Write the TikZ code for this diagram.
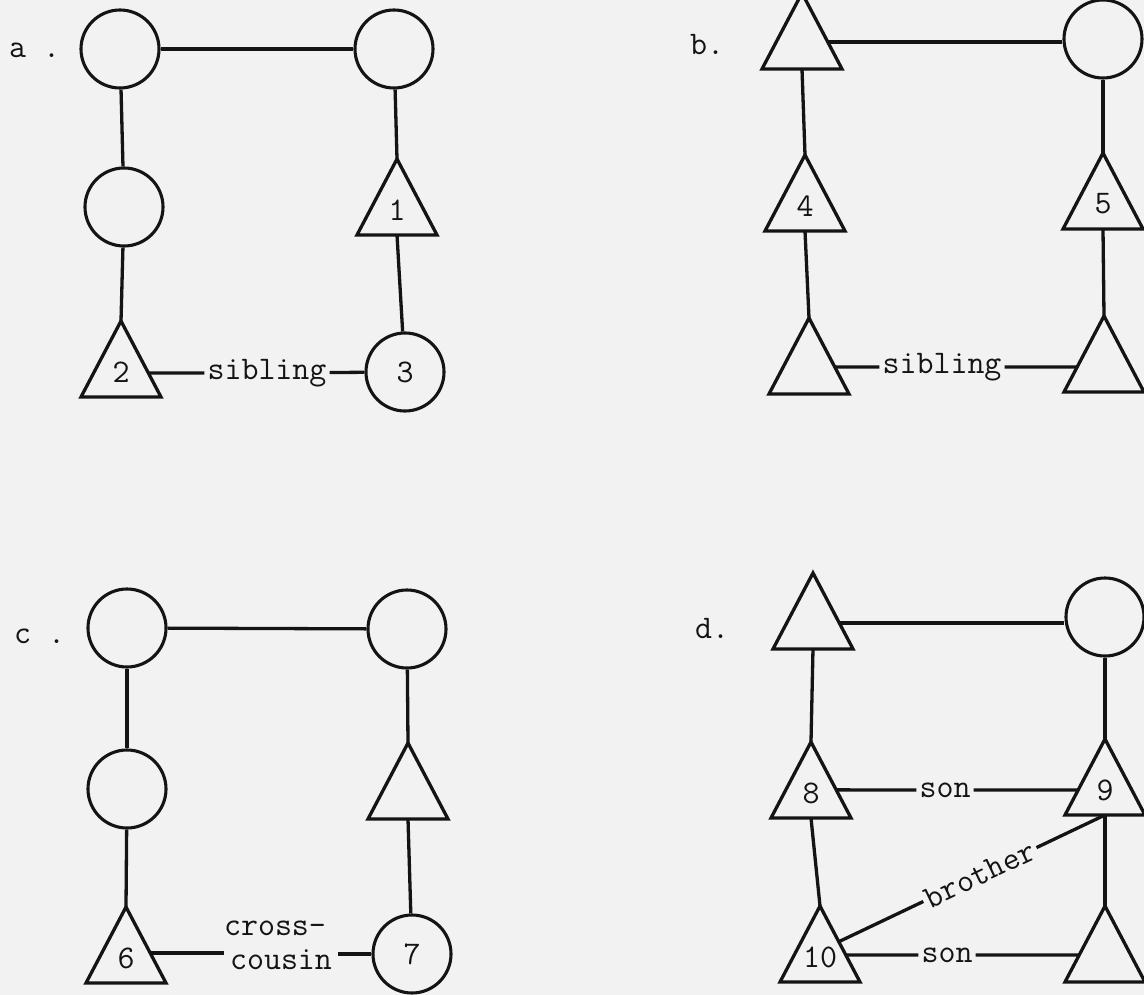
\documentclass[tikz,border=0pt]{standalone}
\usepackage{fontspec}
\usetikzlibrary{calc}
\definecolor{bg}{RGB}{242,242,242}
\definecolor{ink}{RGB}{20,20,20}
\newcommand{\kfont}{\ttfamily\fontsize{33pt}{35pt}\selectfont\addfontfeatures{FakeBold=1.6}}
\newcommand{\kintri}[4]{%
  \coordinate (#1-top) at (#2,#3);
  \coordinate (#1-l) at ($(#2,#3)+(-40,76)$);
  \coordinate (#1-r) at ($(#2,#3)+(40,76)$);
  \coordinate (#1-bot) at ($(#2,#3)+(0,76)$);
  \draw[kin] (#1-top) -- (#1-r) -- (#1-l) -- cycle;
  \node[num] (#1) at ($(#2,#3)+(0,51)$) {#4};
}
\tikzset{
  kin/.style={line width=3.3pt, draw=ink, line join=miter},
  kcirc/.style={circle, draw=ink, line width=3.1pt, minimum size=78pt, inner sep=0pt, font=\kfont, text=ink},
  num/.style={font=\kfont, text=ink, inner sep=0pt},
  lbl/.style={font=\kfont, text=ink, inner sep=3pt},
  plabel/.style={font=\kfont, text=ink, inner sep=0pt, anchor=base west},
  link/.style={line width=3.3pt, draw=ink},
}
\begin{document}
\begin{tikzpicture}[x=1pt,y=-1pt]
\fill[bg] (0,0) rectangle (1144,995);
\useasboundingbox (0,0) rectangle (1144,995);

% ---------- panel a ----------
\node[plabel] (la) at (9,58) {a .};
\node[kcirc] (ca0) at (120,49) {};
\node[kcirc] (ca1) at (394,49) {};
\node[kcirc] (ca2) at (124,207) {};
\node[kcirc] (c3) at (405,372) {3};
\kintri{t2}{121}{321}{2}
\kintri{t1}{397}{159}{1}
\node[lbl] (sibA) at (267,373) {sibling};
\coordinate (t2e) at ($(t2-top)!0.684!(t2-r)$);
\draw[link] (ca0) -- (ca1);
\draw[link] (ca0) -- (ca2);
\draw[link] (ca2) -- (t2-top);
\draw[link] (ca1) -- (t1-top);
\draw[link] (t1-bot) -- (c3);
\draw[link] (t2e) -- (sibA);
\draw[link] (sibA) -- (c3);

% ---------- panel b ----------
\node[plabel] (lb) at (690,55) {b.};
\kintri{tb0}{802}{-7}{}
\node[kcirc] (cb1) at (1103,39) {};
\kintri{tb4}{805}{155}{4}
\kintri{tb5}{1103}{153}{5}
\kintri{tb6}{809}{318}{}
\kintri{tb7}{1104}{316}{}
\coordinate (tb0e) at ($(tb0-top)!0.645!(tb0-r)$);
\draw[link] (tb0e) -- (tb0e -| cb1.west);
\draw[link] (tb0-bot) -- (tb4-top);
\draw[link] (tb4-bot) -- (tb6-top);
\draw[link] (cb1) -- (tb5-top);
\draw[link] (tb5-bot) -- (tb7-top);
\node[lbl] (sibB) at (942,367) {sibling};
\coordinate (tb6e) at ($(tb6-top)!0.645!(tb6-r)$);
\coordinate (tb7e) at ($(tb7-top)!0.67!(tb7-l)$);
\draw[link] (tb6e) -- (sibB);
\draw[link] (sibB) -- (tb7e);

% ---------- panel c ----------
\node[plabel] (lc) at (14,643) {c .};
\node[kcirc] (cc0) at (127,628) {};
\node[kcirc] (cc1) at (407,629) {};
\node[kcirc] (cc2) at (127,789) {};
\node[kcirc] (c7) at (412,954) {7};
\kintri{t6}{126}{907}{6}
\kintri{tc1}{408}{743}{}
\draw[link] (cc0) -- (cc1);
\draw[link] (cc0) -- (cc2);
\draw[link] (cc2) -- (t6-top);
\draw[link] (cc1) -- (tc1-top);
\draw[link] (tc1-bot) -- (c7);
\node[lbl] (cross) at (275,928) {cross-};
\node[lbl, inner xsep=6pt] (cousin) at (281,960) {cousin};
\coordinate (t6e) at ($(t6-top)!0.605!(t6-r)$);
\draw[link] (t6e) -- (t6e -| cousin.west);
\draw[link] (cousin.east |- c7) -- (c7);

% ---------- panel d ----------
\node[plabel] (ld) at (695,638) {d.};
\kintri{td0}{813}{573}{}
\node[kcirc] (cd1) at (1105,617) {};
\kintri{t8}{811}{742}{8}
\kintri{t9}{1105}{739}{9}
\kintri{t10}{820}{906}{10}
\kintri{td3}{1105}{906}{}
\coordinate (td0e) at ($(td0-top)!0.658!(td0-r)$);
\draw[link] (td0e) -- (td0e -| cd1.west);
\draw[link] (td0-bot) -- (t8-top);
\draw[link] (t8-bot) -- (t10-top);
\draw[link] (cd1) -- (t9-top);
\draw[link] (t9-bot) -- (td3-top);
\node[lbl] (sonA) at (945,790) {son};
\coordinate (t8e) at ($(t8-top)!0.63!(t8-r)$);
\coordinate (t9e) at ($(t9-top)!0.67!(t9-l)$);
\draw[link] (t8e) -- (sonA);
\draw[link] (sonA) -- (t9e);
\node[lbl] (sonB) at (947,955) {son};
\coordinate (t10e) at ($(t10-top)!0.645!(t10-r)$);
\coordinate (td3e) at ($(td3-top)!0.645!(td3-l)$);
\draw[link] (t10e) -- (sonB);
\draw[link] (sonB) -- (td3e);
\coordinate (t10b) at ($(t10-top)!0.47!(t10-r)$);
\path (t10b) -- node[lbl, sloped, pos=0.53] (bro) {brother} (t9-bot);
\draw[link] (t10b) -- (bro);
\draw[link] (bro) -- (t9-bot);
\end{tikzpicture}
\end{document}
